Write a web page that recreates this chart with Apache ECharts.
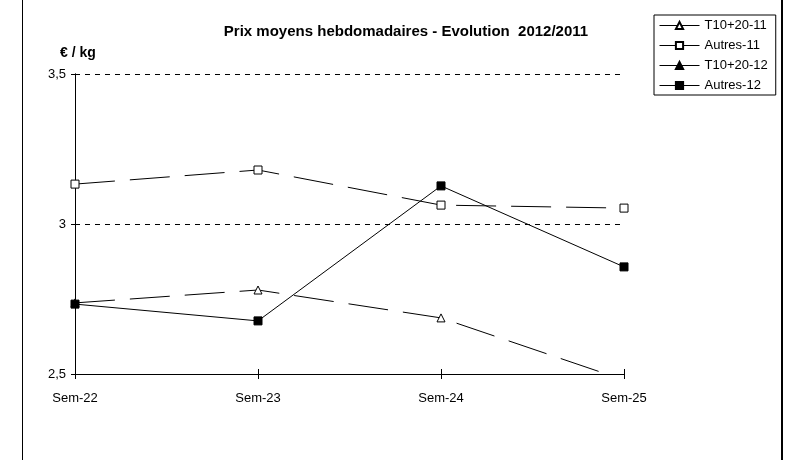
<!DOCTYPE html>
<html>
<head>
<meta charset="utf-8">
<script src="https://cdn.jsdelivr.net/npm/echarts@6/dist/echarts.min.js"></script>
<style>html,body{margin:0;padding:0;background:#fff;}#c{width:796px;height:460px;}</style>
</head>
<body>
<div id="c"></div>
<script>
var categories = ['Sem-22', 'Sem-23', 'Sem-24', 'Sem-25'];
var t1020_11 = [2.737, 2.78, 2.687, 2.48];
var autres_11 = [3.133, 3.18, 3.063, 3.053];
var t1020_12 = [null, null, null, null];
var autres_12 = [2.733, 2.677, 3.127, 2.857];
var yTicks = [2.5, 3, 3.5];

var chart = echarts.init(document.getElementById('c'), null, {renderer: 'canvas'});
var font = 'Liberation Sans, Arial, sans-serif';
function fmt(v) { return String(v).replace('.', ','); }

var baseX = {
  type: 'category', data: categories, boundaryGap: false,
  axisLine: {lineStyle: {color: '#000', width: 1}},
  axisLabel: {color: '#000', fontFamily: font, fontSize: 13, margin: 18},
  splitLine: {show: false}
};
var baseY = {
  type: 'value', min: yTicks[0], max: yTicks[yTicks.length - 1], interval: 0.5,
  axisLine: {show: true, lineStyle: {color: '#000', width: 1}},
  splitLine: {show: true, lineStyle: {color: '#000', type: [5, 5], width: 1}}
};

chart.setOption({
  animation: false,
  backgroundColor: '#fff',
  title: {
    text: 'Prix moyens hebdomadaires - Evolution  2012/2011',
    left: 401, top: 19, textAlign: 'center',
    textStyle: {fontFamily: font, fontSize: 15, fontWeight: 'bold', color: '#000'}
  },
  legend: {
    orient: 'vertical', left: 654, top: 15,
    itemWidth: 40, itemHeight: 9, itemGap: 7,
    padding: [4, 8, 3, 5],
    borderColor: '#000', borderWidth: 1,
    lineStyle: {type: 'solid', width: 1, color: '#000'},
    textStyle: {fontFamily: font, fontSize: 13, color: '#000'},
    data: ['T10+20-11', 'Autres-11', 'T10+20-12', 'Autres-12']
  },
  grid: {left: 75, right: 172, top: 74, bottom: 86},
  graphic: [
    {type: 'line', shape: {x1: 22.5, y1: 0, x2: 22.5, y2: 460}, style: {stroke: '#000', lineWidth: 1}},
    {type: 'line', shape: {x1: 782, y1: 0, x2: 782, y2: 460}, style: {stroke: '#000', lineWidth: 2}},
    {type: 'text', left: 60, top: 46, style: {text: '€ / kg', font: 'bold 14px ' + font, fill: '#000'}}
  ],
  xAxis: [
    echarts.util.merge({axisTick: {show: true, length: 5, inside: false, lineStyle: {color: '#000'}}}, baseX),
    echarts.util.merge({axisTick: {show: true, length: 5, inside: true, lineStyle: {color: '#000'}}, axisLabel: {show: false}, position: 'bottom'}, echarts.util.clone(baseX), false)
  ],
  yAxis: [
    echarts.util.merge({axisTick: {show: true, length: 4, inside: false, lineStyle: {color: '#000'}},
      axisLabel: {color: '#000', fontFamily: font, fontSize: 13, margin: 9, formatter: fmt}}, baseY),
    echarts.util.merge({axisTick: {show: true, length: 4, inside: true, lineStyle: {color: '#000'}},
      axisLabel: {show: false}, position: 'left', splitLine: {show: false}}, echarts.util.clone(baseY), false)
  ],
  series: [
    {name: 'T10+20-11', type: 'line', data: t1020_11, symbol: 'triangle', symbolSize: 8,
      lineStyle: {color: '#000', width: 1, type: [40, 15]},
      itemStyle: {color: '#fff', borderColor: '#000', borderWidth: 1}, clip: true},
    {name: 'Autres-11', type: 'line', data: autres_11, symbol: 'rect', symbolSize: 8,
      lineStyle: {color: '#000', width: 1, type: [40, 15]},
      itemStyle: {color: '#fff', borderColor: '#000', borderWidth: 1}},
    {name: 'T10+20-12', type: 'line', data: t1020_12, symbol: 'triangle', symbolSize: 8,
      lineStyle: {color: '#000', width: 1},
      itemStyle: {color: '#000', borderColor: '#000', borderWidth: 1}},
    {name: 'Autres-12', type: 'line', data: autres_12, symbol: 'rect', symbolSize: 8,
      lineStyle: {color: '#000', width: 1},
      itemStyle: {color: '#000', borderColor: '#000', borderWidth: 1}}
  ]
});
</script>
</body>
</html>
